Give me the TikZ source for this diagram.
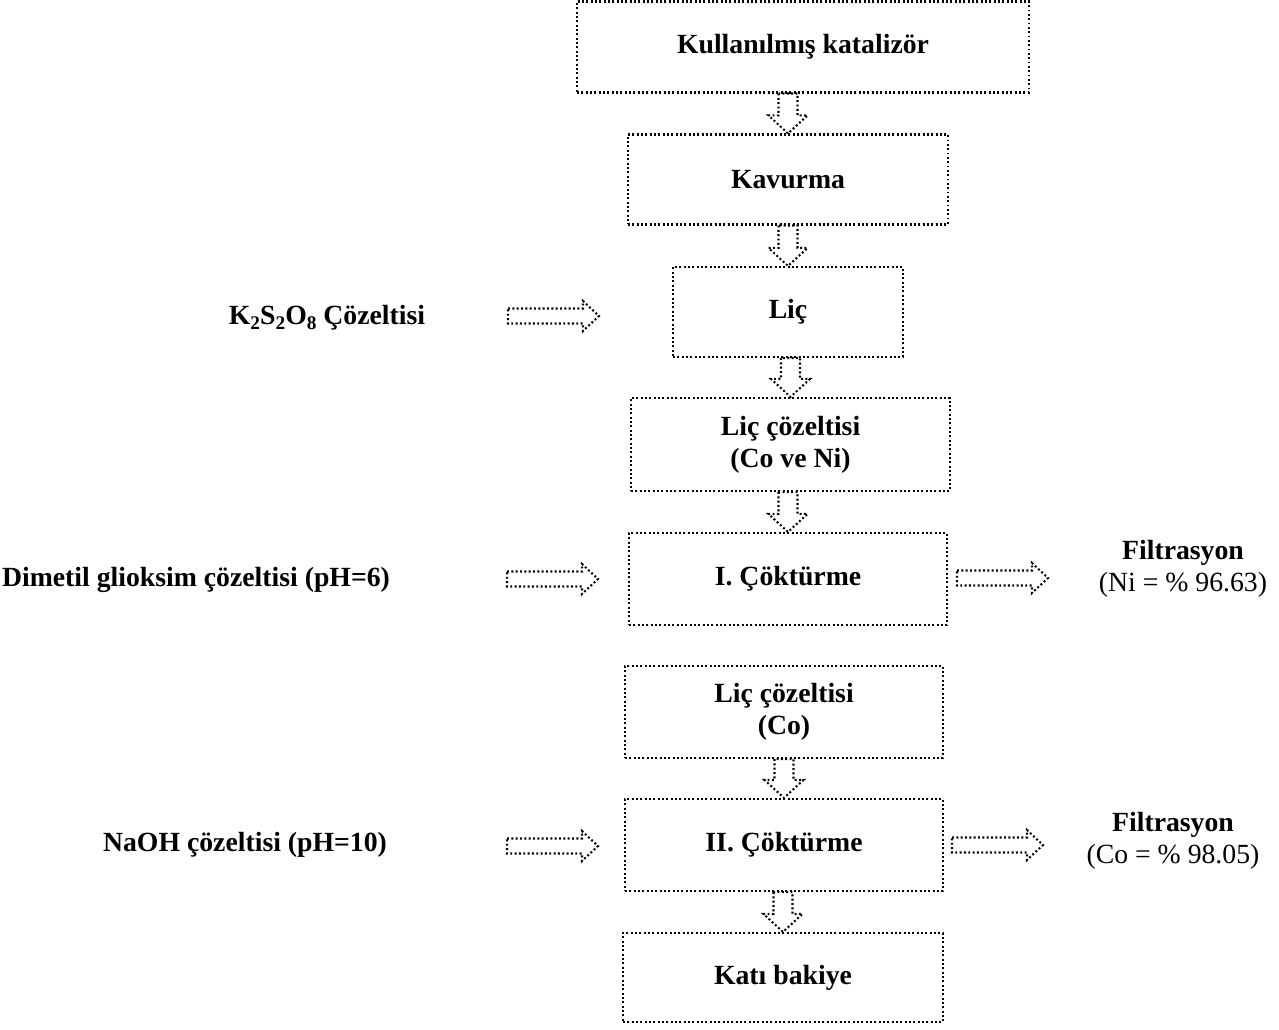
\documentclass[tikz,border=0pt]{standalone}
\usepackage{fontspec}
\setmainfont{Liberation Serif}
\usetikzlibrary{calc}
\newcommand{\downflow}[2]{%
\draw[flow] ($(#1.south -| #2.north)+(-9.5,0)$) -- ($(#2.north)+(-9.5,-18)$) -- ($(#2.north)+(-19.5,-18)$) -- (#2.north) -- ($(#2.north)+(19.5,-18)$) -- ($(#2.north)+(9.5,-18)$) -- ($(#1.south -| #2.north)+(9.5,0)$) -- cycle;}
\newcommand{\lowidx}[1]{\raisebox{-0.35ex}{\fontsize{14.5}{14.5}\selectfont #1}}
\begin{document}
\begin{tikzpicture}[x=0.75pt,y=-0.75pt,
flow/.style={line width=1.55pt,dash pattern=on 1.45pt off 1.8pt},
box/.style={flow,draw,align=center,inner sep=0pt,font=\fontsize{20.8}{24}\selectfont\bfseries},
txt/.style={align=center,inner sep=0pt,font=\fontsize{20.8}{24}\selectfont},
rflow/.pic={\draw[flow] (0,-7.5) -- (75,-7.5) -- (75,-15) -- (91,0) -- (75,15) -- (75,7.5) -- (0,7.5) -- cycle;}]
\useasboundingbox (0,0) rectangle (1279,1030);
\node[box,minimum width=452*0.75pt,minimum height=91*0.75pt] (kat) at (803,47) {Kullanılmış katalizör};
\node[box,minimum width=320*0.75pt,minimum height=90*0.75pt] (kav) at (788,179.5) {Kavurma};
\node[box,minimum width=230*0.75pt,minimum height=90*0.75pt] (lic) at (788,312) {Liç};
\node[box,minimum width=319*0.75pt,minimum height=93*0.75pt] (licc) at (790.5,444.5) {Liç çözeltisi\\(Co ve Ni)};
\node[box,minimum width=318*0.75pt,minimum height=92*0.75pt] (cok1) at (788,579) {I. Çöktürme};
\node[box,minimum width=318*0.75pt,minimum height=92*0.75pt] (licco) at (784,712) {Liç çözeltisi\\(Co)};
\node[box,minimum width=318*0.75pt,minimum height=92*0.75pt] (cok2) at (784,845) {II. Çöktürme};
\node[box,minimum width=320*0.75pt,minimum height=89*0.75pt] (kati) at (783,977.5) {Katı bakiye};
\downflow{kat}{kav}
\downflow{kav}{lic}
\downflow{lic}{licc}
\downflow{licc}{cok1}
\downflow{licco}{cok2}
\downflow{cok2}{kati}
\node[txt,font=\fontsize{20.8}{24}\selectfont\bfseries] (kso) at (327,318) {K\lowidx{2}S\lowidx{2}O\lowidx{8} Çözeltisi};
\node[txt,font=\fontsize{20.8}{24}\selectfont\bfseries] (dmg) at (196,580) {Dimetil glioksim çözeltisi (pH=6)};
\node[txt,font=\fontsize{20.8}{24}\selectfont\bfseries] (naoh) at (245,845) {NaOH çözeltisi (pH=10)};
\node[txt] (fil1) at (1183,569) {\textbf{Filtrasyon}\\(Ni = \% 96.63)};
\node[txt] (fil2) at (1173,841) {\textbf{Filtrasyon}\\(Co = \% 98.05)};
\coordinate (in1) at (508,316);
\coordinate (in2) at (507,579);
\coordinate (in3) at (507,846);
\coordinate (out1) at (957,578);
\coordinate (out2) at (952,845);
\foreach \c in {in1,in2,in3,out1,out2}
  \pic at (\c) {rflow};
\end{tikzpicture}
\end{document}
